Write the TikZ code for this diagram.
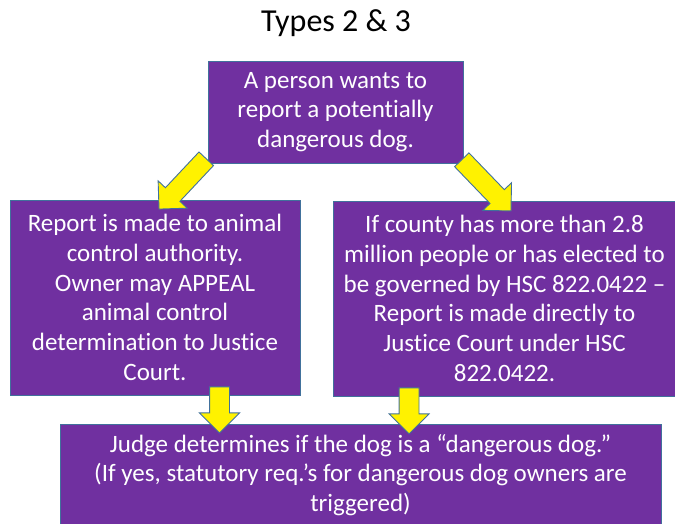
\documentclass[tikz,border=0pt]{standalone}
\usepackage{fontspec}
\setmainfont{Carlito}[Ligatures={TeX,NoCommon}]
\usepackage{tikz}
\usetikzlibrary{shapes,shapes.arrows,positioning,calc}
\definecolor{boxpurple}{HTML}{7030A0}
\definecolor{edgeblue}{HTML}{41719C}

\begin{document}
\begin{tikzpicture}[
    x=1pt, y=1pt,
    font=\fontsize{25}{29.8}\selectfont,
    box/.style={rectangle, draw=edgeblue, line width=0.9pt, fill=boxpurple, text=white, align=center, inner sep=0pt},
    yarrow/.style={single arrow, draw=edgeblue, line width=0.9pt, fill=yellow, inner sep=9.5pt, single arrow head extend=10pt, single arrow tip angle=90}
]
    \useasboundingbox (0,0) rectangle (675,524);

    % Title
    \node (title) at (336,501) {\fontsize{32}{38}\selectfont Types 2 \& 3};

    % Boxes
    \node[box, minimum width=255pt, minimum height=102pt] (person) at (335.5,412) {A person wants to\\report a potentially\\dangerous dog.};
    \node[box, minimum width=290pt, minimum height=195pt] (control) at (155,226.5) {Report is made to animal\\control authority.\\Owner may APPEAL\\animal control\\determination to Justice\\Court.};
    \node[box, minimum width=343pt, minimum height=195pt] (county) at (504.5,225.5) {If county has more than 2.8\\million people or has elected to\\be governed by HSC 822.0422 –\\Report is made directly to\\Justice Court under HSC\\822.0422.};
    \node[box, minimum width=601pt, minimum height=102pt] (judge) at (360.5,49) {Judge determines if the dog is a “dangerous dog.”\\(If yes, statutory req.’s for dangerous dog owners are\\triggered)};

    % Block arrows
    \node[yarrow, minimum height=69pt, rotate=-133.2, anchor=tail] (toControl) at ($(person.south west)+(-1,5)$) {};
    \node[yarrow, minimum height=71pt, rotate=-46.1, anchor=tail] (toCounty) at ($(person.south east)+(-2,4)$) {};
    \node[yarrow, minimum height=46pt, rotate=-90, anchor=tail] (fromControl) at ($(control.south)+(64.5,9)$) {};
    \node[yarrow, minimum height=46pt, rotate=-90, anchor=tail] (fromCounty) at ($(county.south west)+(76.5,9)$) {};

\end{tikzpicture}
\end{document}
